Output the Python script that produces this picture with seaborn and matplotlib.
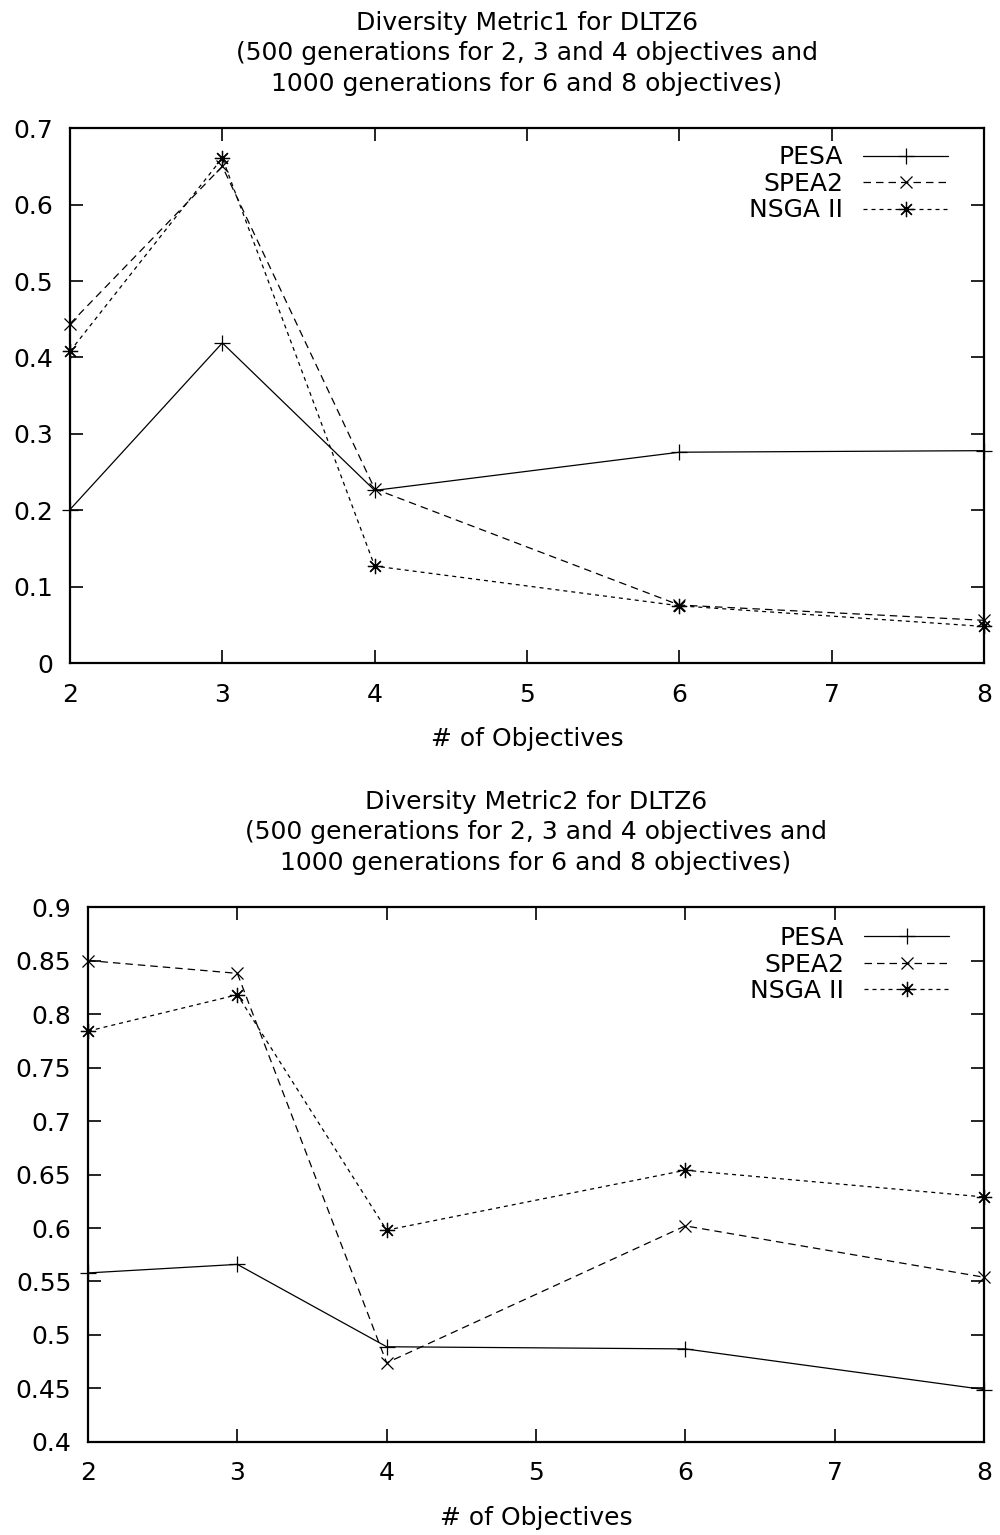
import numpy as np
import pandas as pd
import matplotlib
matplotlib.use("Agg")
import matplotlib.pyplot as plt
import seaborn as sns
from matplotlib.ticker import FormatStrFormatter, MultipleLocator

# ---------------- data ----------------
objectives = [2, 3, 4, 6, 8]
series_names = ["PESA", "SPEA2", "NSGA II"]

metric1_pesa = [0.201, 0.419, 0.226, 0.276, 0.278]
metric1_spea2 = [0.444, 0.650, 0.228, 0.076, 0.056]
metric1_nsga2 = [0.408, 0.661, 0.127, 0.075, 0.048]

metric2_pesa = [0.558, 0.566, 0.489, 0.487, 0.449]
metric2_spea2 = [0.850, 0.838, 0.474, 0.602, 0.554]
metric2_nsga2 = [0.784, 0.818, 0.598, 0.654, 0.629]

title1 = ("Diversity Metric1 for DLTZ6\n"
          "(500 generations for 2, 3 and 4 objectives and\n"
          "1000 generations for 6 and 8 objectives)")
title2 = ("Diversity Metric2 for DLTZ6\n"
          "(500 generations for 2, 3 and 4 objectives and\n"
          "1000 generations for 6 and 8 objectives)")
xlabel = "# of Objectives"

# ---------------- style ----------------
sns.set_style("ticks")
plt.rcParams["font.family"] = ["DejaVu Sans"]
plt.rcParams["text.color"] = "black"
plt.rcParams["axes.labelcolor"] = "black"
plt.rcParams["xtick.color"] = "black"
plt.rcParams["ytick.color"] = "black"
FS = 18

styles = {
    "PESA": dict(linestyle="-", marker="+", markersize=11),
    "SPEA2": dict(linestyle=(0, (6.0, 4.0)), marker="x", markersize=8.5),
    "NSGA II": dict(linestyle=(0, (3.2, 3.2)), marker=(8, 2, 0), markersize=11),
}

fig = plt.figure(figsize=(10, 15.35), dpi=100)
ax1 = fig.add_axes([0.070, 0.568, 0.914, 0.3485])
ax2 = fig.add_axes([0.088, 0.0606, 0.896, 0.3485])


def draw(ax, values, ylim, ystep, title, leg_anchor):
    for name, vals in zip(series_names, values):
        df = pd.DataFrame({"objectives": objectives, "value": vals})
        sns.lineplot(data=df, x="objectives", y="value", ax=ax, color="black",
                     linewidth=0.9, markeredgewidth=0.9, markeredgecolor="black",
                     markerfacecolor="none", label=name, clip_on=False,
                     **styles[name])
    ax.set_xlim(2, 8)
    ax.set_ylim(*ylim)
    ax.xaxis.set_major_locator(MultipleLocator(1))
    ax.yaxis.set_major_locator(MultipleLocator(ystep))
    ax.yaxis.set_major_formatter(FormatStrFormatter("%g"))
    ax.tick_params(axis="both", direction="in", length=9.5, width=1.2,
                   top=True, right=True, labelsize=FS, color="black",
                   labelcolor="black")
    ax.tick_params(axis="x", pad=14)
    ax.tick_params(axis="y", pad=12)
    for sp in ax.spines.values():
        sp.set_visible(True)
        sp.set_linewidth(1.6)
        sp.set_color("black")
    ax.set_xlabel(xlabel, fontsize=FS, labelpad=15, color="black")
    ax.set_ylabel("")
    ax.set_title(title, fontsize=FS, pad=27, linespacing=1.34, color="black")
    ax.legend(loc="upper right", bbox_to_anchor=leg_anchor, frameon=False,
              markerfirst=False, handlelength=3.4, handletextpad=0.8,
              labelspacing=0.1, borderpad=0, borderaxespad=0, fontsize=FS)


draw(ax1, [metric1_pesa, metric1_spea2, metric1_nsga2], (0, 0.7), 0.1,
     title1, (0.961, 0.968))
draw(ax2, [metric2_pesa, metric2_spea2, metric2_nsga2], (0.4, 0.9), 0.05,
     title2, (0.961, 0.9645))

fig.savefig("out.png", dpi=100, facecolor="white")
